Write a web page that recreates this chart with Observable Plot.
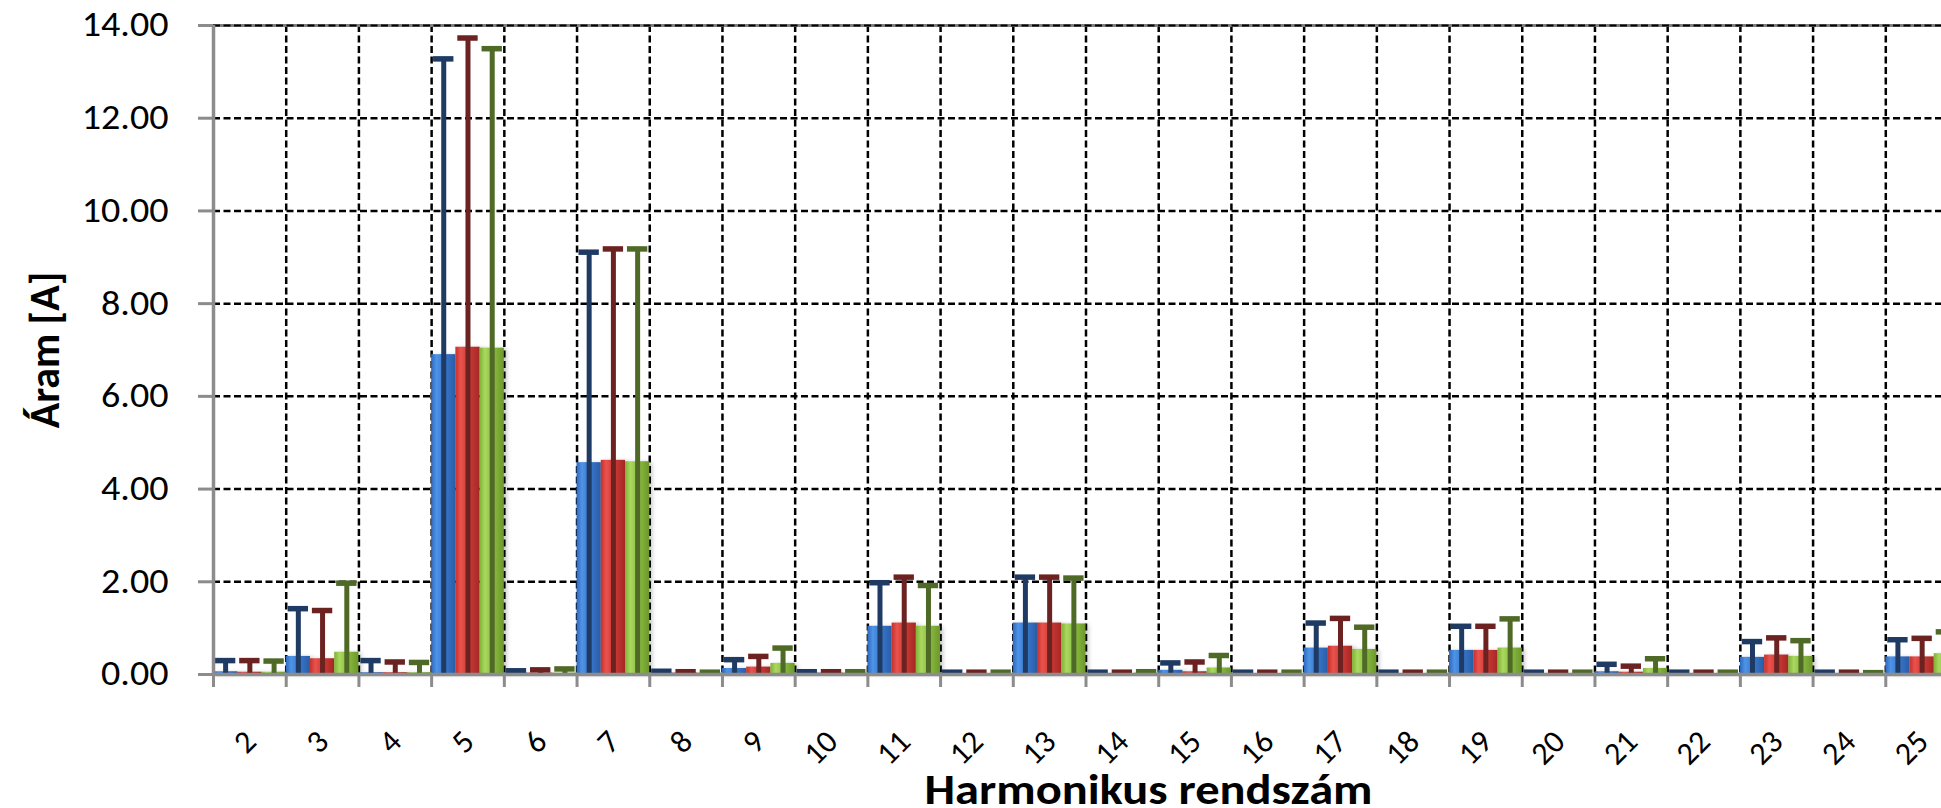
<!DOCTYPE html>
<html>
<head>
<meta charset="utf-8">
<script src="https://cdn.jsdelivr.net/npm/d3@7"></script>
<script src="https://cdn.jsdelivr.net/npm/@observablehq/plot@0.6"></script>
<style>
  html, body { margin: 0; padding: 0; background: white; overflow: hidden; }
  #chart { width: 1980px; }
</style>
</head>
<body>
<div id="chart"></div>
<script>
// Harmonic orders (category axis)
const harmonics = [2,3,4,5,6,7,8,9,10,11,12,13,14,15,16,17,18,19,20,21,22,23,24,25];
const seriesNames = ["L1", "L2", "L3"];

// Bar values (average current, A)
const meanL1 = [0.06,0.39,0.04,6.90,0.03,4.57,0.03,0.13,0.03,1.04,0.02,1.11,0.02,0.09,0.02,0.57,0.02,0.52,0.02,0.06,0.02,0.37,0.02,0.38];
const meanL2 = [0.05,0.34,0.04,7.06,0.03,4.62,0.03,0.16,0.03,1.11,0.02,1.11,0.02,0.06,0.02,0.61,0.02,0.52,0.02,0.05,0.02,0.42,0.02,0.38];
const meanL3 = [0.05,0.48,0.04,7.04,0.03,4.59,0.03,0.24,0.03,1.04,0.02,1.09,0.03,0.14,0.02,0.54,0.02,0.57,0.02,0.13,0.02,0.39,0.02,0.45];

// Error bar tops (maximum current, A)
const maxL1 = [0.30,1.42,0.30,13.28,0.08,9.11,0.07,0.32,0.06,1.98,0.05,2.10,0.05,0.25,0.05,1.11,0.05,1.04,0.05,0.22,0.05,0.71,0.05,0.75];
const maxL2 = [0.30,1.38,0.27,13.73,0.10,9.18,0.06,0.39,0.06,2.10,0.05,2.10,0.05,0.27,0.05,1.21,0.05,1.04,0.05,0.18,0.05,0.79,0.05,0.78];
const maxL3 = [0.29,1.97,0.26,13.50,0.12,9.18,0.05,0.57,0.06,1.92,0.05,2.08,0.06,0.41,0.05,1.02,0.05,1.20,0.05,0.34,0.05,0.73,0.04,0.92];

const yTicks = [0,2,4,6,8,10,12,14];

const means = [meanL1, meanL2, meanL3];
const maxes = [maxL1, maxL2, maxL3];
const rows = [];
seriesNames.forEach((s, si) => {
  harmonics.forEach((h, i) => rows.push({h, s, si, mean: means[si][i], max: maxes[si][i]}));
});

const gradStops = {
  gBlue:  [[0,"#2d68bd"],[0.22,"#4f94e6"],[0.5,"#3a7bd2"],[1,"#2a5da6"]],
  gRed:   [[0,"#c4302c"],[0.22,"#ea534d"],[0.5,"#d23c37"],[1,"#a52824"]],
  gGreen: [[0,"#80b035"],[0.22,"#aad860"],[0.5,"#8fc045"],[1,"#6c982b"]]
};
const gradIds = ["gBlue","gRed","gGreen"];
const errColors = ["#1f3b63","#6b2221","#4f6a26"];

function gradientDefs() {
  const defs = d3.create("svg:defs");
  for (const id of gradIds) {
    const g = defs.append("linearGradient").attr("id", id)
      .attr("x1", "0").attr("x2", "1").attr("y1", "0").attr("y2", "0");
    for (const [o, c] of gradStops[id]) g.append("stop").attr("offset", o).attr("stop-color", c);
  }
  return defs.node();
}

const left = d => d.h - 0.5 + d.si / 3;
const right = d => d.h - 0.5 + (d.si + 1) / 3;
const center = d => d.h - 0.5 + (d.si + 0.5) / 3;

const boundaries = harmonics.map(h => h - 0.5).concat([harmonics[harmonics.length - 1] + 0.5]);
const dash = "7,3.5";

const seriesMarks = [];
seriesNames.forEach((s, si) => {
  const data = rows.filter(d => d.si === si);
  seriesMarks.push(
    Plot.rectY(data, {x1: left, x2: right, y1: 0, y2: "mean", fill: `url(#${gradIds[si]})`})
  );
});
seriesNames.forEach((s, si) => {
  const data = rows.filter(d => d.si === si);
  seriesMarks.push(
    Plot.ruleX(data, {x: center, y1: 0, y2: "max", stroke: errColors[si], strokeWidth: 5}),
    Plot.ruleY(data, {y: "max", x1: d => center(d) - 0.14, x2: d => center(d) + 0.14, stroke: errColors[si], strokeWidth: 5.5})
  );
});

const chart = Plot.plot({
  width: 1980,
  height: 808,
  marginLeft: 213,
  marginRight: 22,
  marginTop: 25,
  marginBottom: 134,
  style: {maxWidth: "none", background: "white", fontFamily: "Carlito, Calibri, Lato, sans-serif", overflow: "visible"},
  x: {type: "linear", domain: [1.5, 25.5]},
  y: {domain: [0, 14]},
  marks: [
    gradientDefs,
    Plot.ruleY(yTicks.filter(t => t > 0 && t < 14), {stroke: "black", strokeWidth: 2.5, strokeDasharray: dash}),
    Plot.ruleX(boundaries.slice(1), {stroke: "black", strokeWidth: 2.5, strokeDasharray: dash}),
    Plot.ruleY([14], {stroke: "#808080", strokeWidth: 3}),
    Plot.ruleY([14], {stroke: "black", strokeWidth: 2, strokeDasharray: dash}),
    ...seriesMarks,
    Plot.ruleY([0], {stroke: "#8c8c8c", strokeWidth: 3.5}),
    Plot.ruleX([1.5], {stroke: "#8c8c8c", strokeWidth: 3.5}),
    Plot.axisX({ticks: boundaries, tickSize: 13, stroke: "#8c8c8c", strokeWidth: 3, fill: "none", label: null}),
    Plot.axisY({ticks: yTicks, tickFormat: d3.format(".2f"), tickSize: 15, tickPadding: 30,
      stroke: "#8c8c8c", strokeWidth: 3, fill: "black", fontSize: 34, label: null}),
    Plot.text(harmonics, {x: d => d, y: 0, text: d => String(d), rotate: -45, textAnchor: "end",
      lineAnchor: "bottom", dx: 8, dy: 69, fontSize: 32, fill: "black"}),
    Plot.text(["Áram [A]"], {frameAnchor: "left", rotate: -90, dx: -168, textAnchor: "middle",
      lineAnchor: "middle", fontSize: 42, fontWeight: "bold", fill: "black"}),
    Plot.text(["Harmonikus rendszám"], {x: () => 14.36, frameAnchor: "bottom", dy: 129, lineAnchor: "bottom",
      textAnchor: "middle", fontSize: 42, fontWeight: "bold", fill: "black"})
  ]
});
document.getElementById("chart").appendChild(chart);

// The original chart's lettering is slightly wide: stretch a little horizontally
const root = d3.select(chart);
root.selectAll('g[aria-label="y-axis tick label"] text').each(function () {
  const L = this.getComputedTextLength();
  this.setAttribute("textLength", (L * 1.12).toFixed(1));
  this.setAttribute("lengthAdjust", "spacingAndGlyphs");
});
root.selectAll("text").filter(function () { return this.textContent === "Harmonikus rendszám"; }).each(function () {
  this.setAttribute("textLength", "448");
  this.setAttribute("lengthAdjust", "spacingAndGlyphs");
});
// soft shadow behind the bars
root.selectAll('g[aria-label="rect"]').style("filter", "drop-shadow(3px 1px 2px rgba(0,0,0,0.22))");
</script>
</body>
</html>
